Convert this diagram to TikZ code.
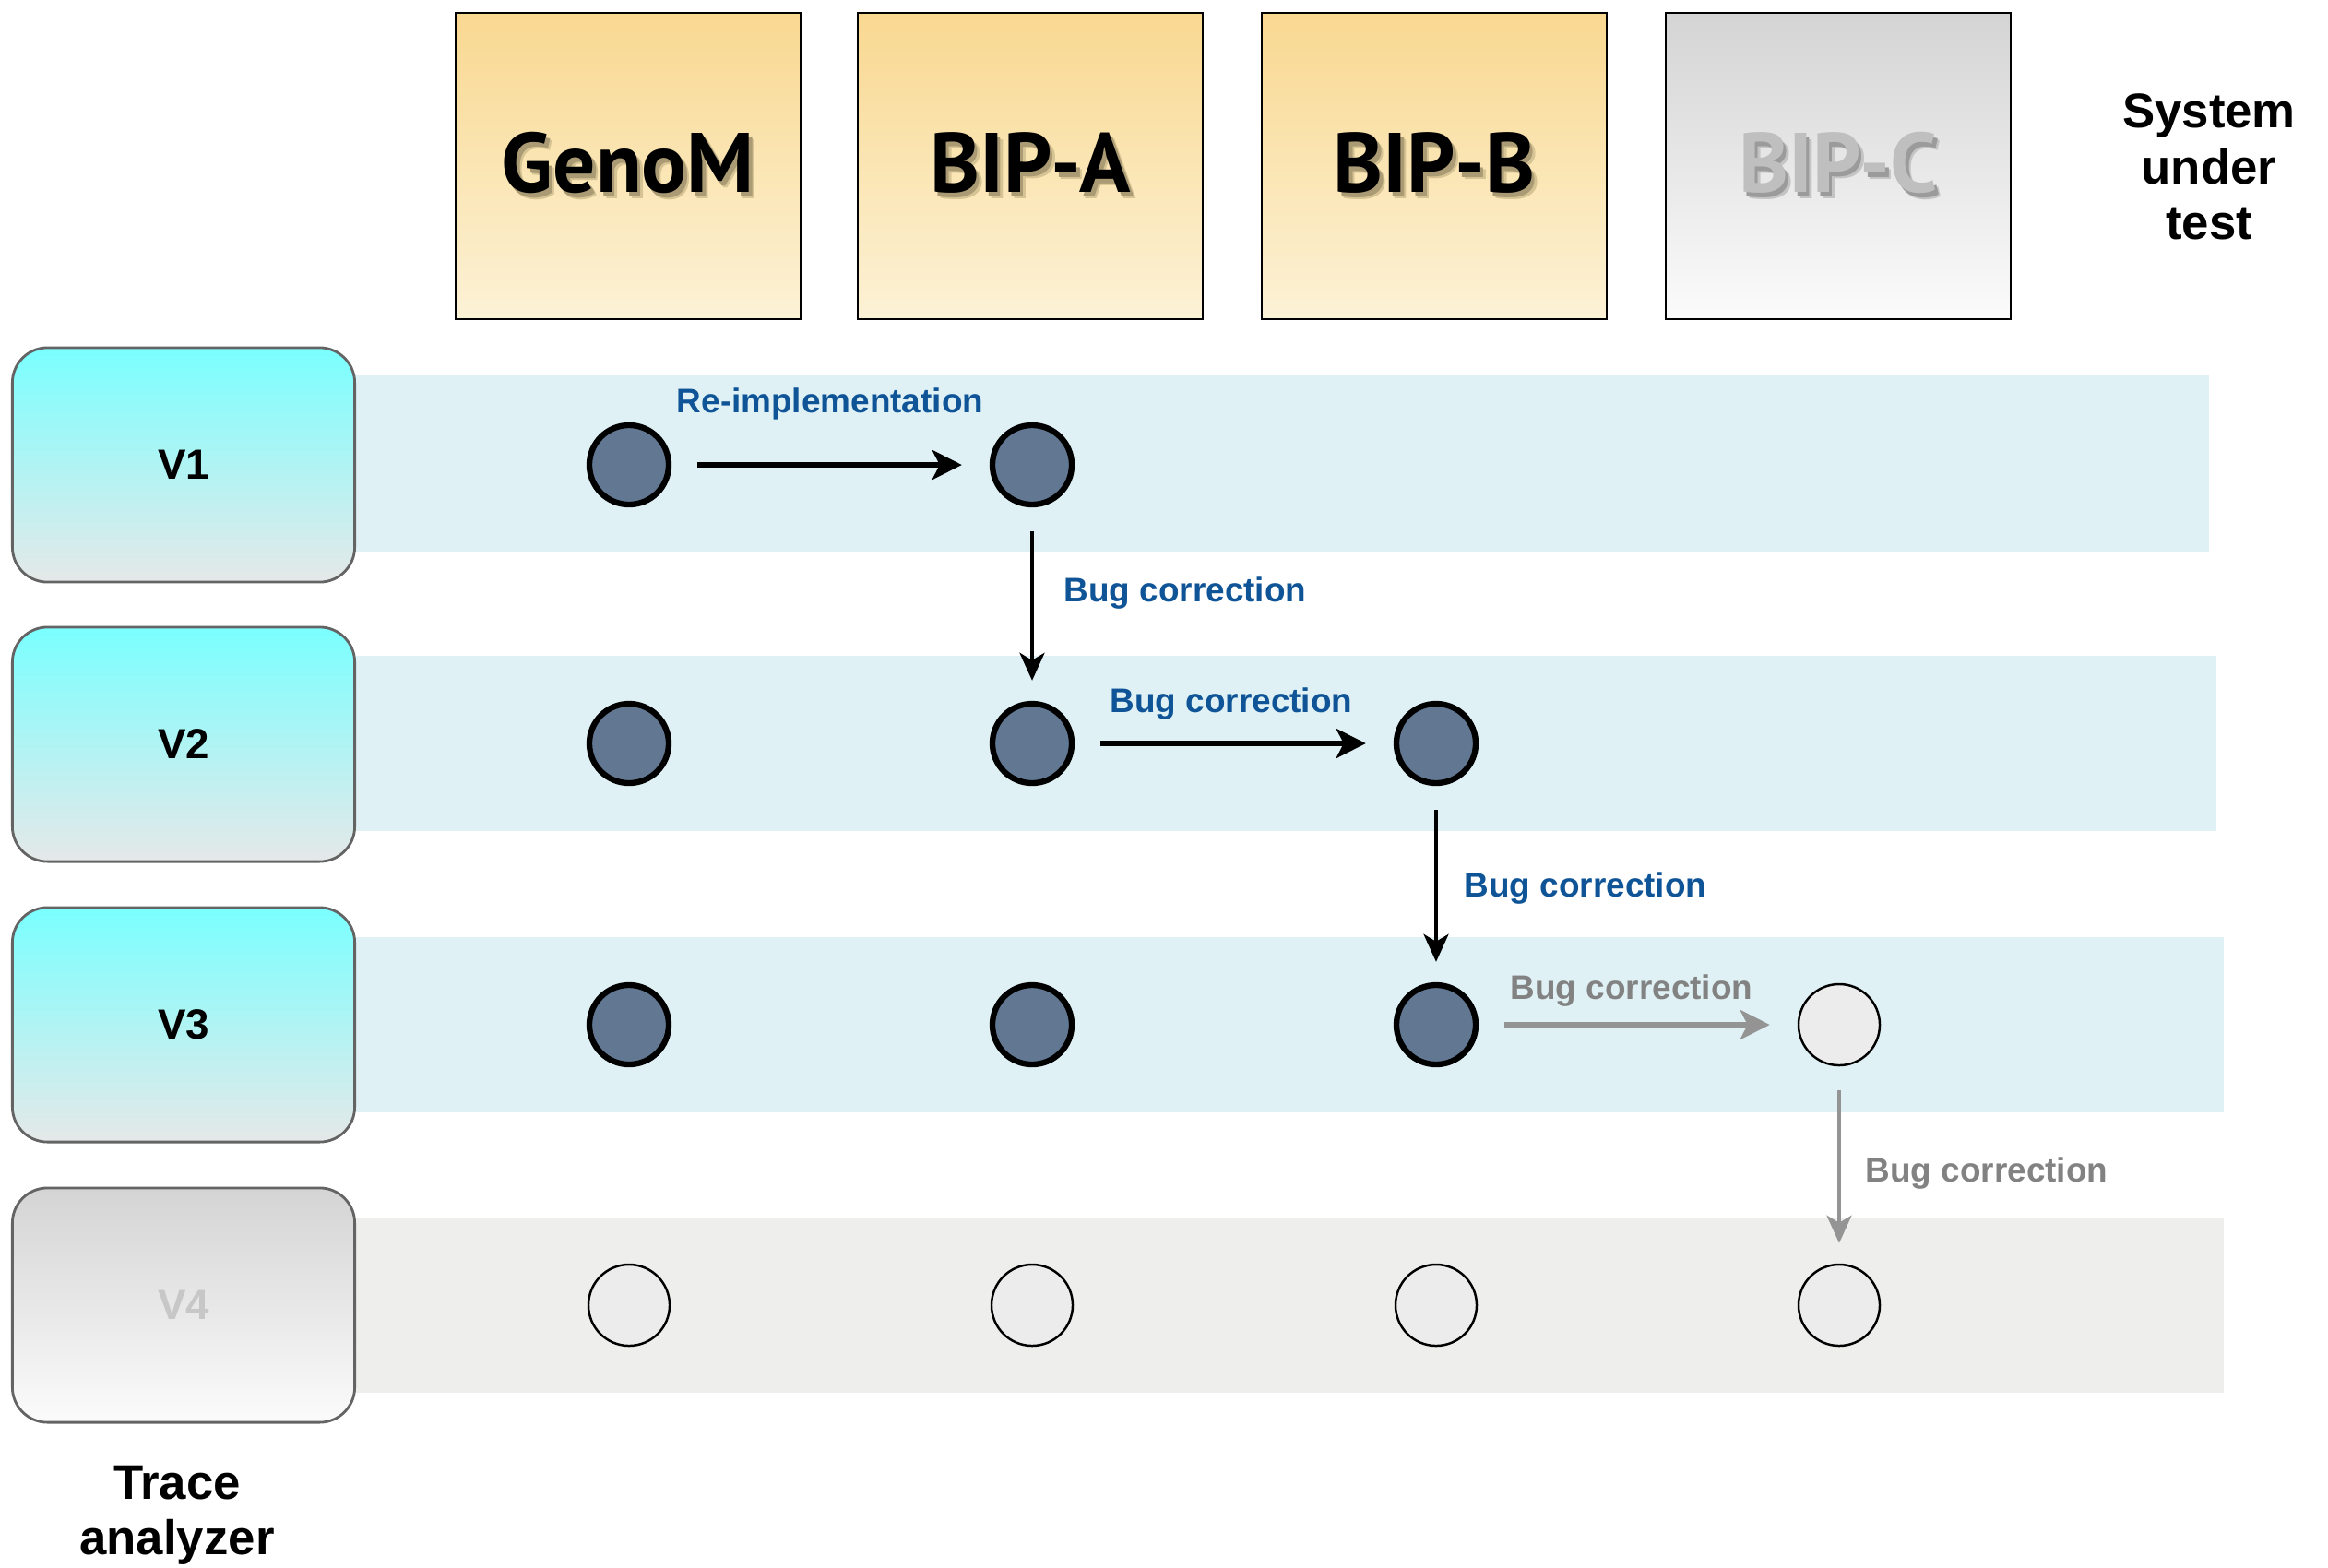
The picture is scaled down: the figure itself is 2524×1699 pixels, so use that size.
\documentclass[tikz,border=0pt]{standalone}
\usepackage{fontspec}
\setmainfont{Liberation Sans}
\newfontfamily\boxfont{PT Sans}
\usetikzlibrary{arrows.meta}

\definecolor{bandblue}{RGB}{223,241,245}
\definecolor{bandgray}{RGB}{238,238,236}
\definecolor{labelblue}{RGB}{14,84,150}
\definecolor{labelgray}{RGB}{130,130,130}
\definecolor{arrowgray}{RGB}{148,148,148}
\definecolor{dotfill}{RGB}{98,119,146}
\definecolor{emptyfill}{RGB}{236,236,236}
\definecolor{goldtop}{RGB}{249,216,145}
\definecolor{goldmid}{RGB}{250,228,172}
\definecolor{goldbot}{RGB}{252,242,214}
\definecolor{greytop}{RGB}{212,212,212}
\definecolor{greymid}{RGB}{228,228,228}
\definecolor{greybot}{RGB}{251,251,251}
\definecolor{cyantop}{RGB}{122,255,255}
\definecolor{cyanbot}{RGB}{230,232,232}
\definecolor{laneedge}{RGB}{100,100,100}

% a word with a soft drop shadow behind it: #1 text, #2 letter colour, #3 background tone
\newcommand\shadowword[3]{%
  \makebox[0pt][l]{\hspace{0.06cm}\raisebox{-0.07cm}{\color{#3!86!black}#1}}%
  \makebox[0pt][l]{\hspace{0.035cm}\raisebox{-0.045cm}{\color{#3!68!black}#1}}%
  {\color{#2}#1}}

\begin{document}
\begin{tikzpicture}[x=0.01cm,y=-0.01cm,
  sysbox/.style={draw=black, line width=0.7pt, minimum width=3.74cm, minimum height=3.32cm,
    top color=goldtop, bottom color=goldbot, font=\boxfont\bfseries\fontsize{26}{30}\selectfont},
  sysboxoff/.style={sysbox, top color=greytop, bottom color=greybot},
  lanebox/.style={draw=laneedge, line width=0.8pt, rounded corners=0.38cm,
    minimum width=3.71cm, minimum height=2.54cm, top color=cyantop, bottom color=cyanbot,
    font=\bfseries\fontsize{13}{15}\selectfont},
  laneboxoff/.style={lanebox, top color=greytop, bottom color=greybot, text=black!22},
  dot/.style={circle, draw=black, line width=1.8pt, fill=dotfill, minimum size=0.86cm, inner sep=0pt},
  dotoff/.style={circle, draw=black, line width=0.7pt, fill=emptyfill, minimum size=0.88cm, inner sep=0pt},
  flowh/.style={line width=1.6pt, -{Stealth[length=0.32cm, width=0.32cm, inset=0.08cm]}, shorten <=0.28cm, shorten >=0.3cm},
  flowv/.style={line width=1.1pt, -{Stealth[length=0.3cm, width=0.27cm, inset=0.08cm]}, shorten <=0.26cm, shorten >=0.22cm},
  tag/.style={font=\bfseries\fontsize{10.5}{12}\selectfont, text=labelblue, inner sep=0pt},
  tagoff/.style={tag, text=labelgray},
  caption/.style={font=\bfseries\fontsize{15}{17.2}\selectfont, align=center, inner sep=0pt}]

\useasboundingbox (0,0) rectangle (2524,1699);

% lane bands
\fill[bandblue] (385,407) rectangle (2395,599);
\fill[bandblue] (385,711) rectangle (2403,901);
\fill[bandblue] (385,1016) rectangle (2411,1206);
\fill[bandgray] (385,1320) rectangle (2411,1510);

% systems under test
\node[sysbox] (genom) at (681,180) {\shadowword{GenoM}{black}{goldmid}};
\node[sysbox] (bipa) at (1117,180) {\shadowword{BIP-A}{black}{goldmid}};
\node[sysbox] (bipb) at (1555,180) {\shadowword{BIP-B}{black}{goldmid}};
\node[sysboxoff] (bipc) at (1993,180) {\shadowword{BIP-C}{black!25}{greymid}};
\node[caption] (sut) at (2395,181) {System\\under\\test};

% trace analyzer versions
\node[lanebox] (v1) at (199,504) {V1};
\node[lanebox] (v2) at (199,807) {V2};
\node[lanebox] (v3) at (199,1111) {V3};
\node[laneboxoff] (v4) at (199,1415) {V4};
\node[caption] (ta) at (192,1643) {Trace\\analyzer};

% results per version and system
\node[dot] (a1) at (682,504) {};
\node[dot] (b1) at (1119,504) {};
\node[dot] (a2) at (682,806) {};
\node[dot] (b2) at (1119,806) {};
\node[dot] (c2) at (1557,806) {};
\node[dot] (a3) at (682,1111) {};
\node[dot] (b3) at (1119,1111) {};
\node[dot] (c3) at (1557,1111) {};
\node[dotoff] (d3) at (1994,1111) {};
\node[dotoff] (a4) at (682,1415) {};
\node[dotoff] (b4) at (1119,1415) {};
\node[dotoff] (c4) at (1557,1415) {};
\node[dotoff] (d4) at (1994,1415) {};

% transitions
\draw[flowh] (a1) -- (b1);
\draw[flowv] (b1) -- (b2);
\draw[flowh] (b2) -- (c2);
\draw[flowv] (c2) -- (c3);
\draw[flowh, arrowgray] (c3) -- (d3);
\draw[flowv, arrowgray] (d3) -- (d4);

\node[tag] (l1) at (900,438) {Re-implementation};
\node[tag, anchor=west] (l2) at (1153,643) {Bug correction};
\node[tag] (l3) at (1335,763) {Bug correction};
\node[tag, anchor=west] (l4) at (1587,963) {Bug correction};
\node[tagoff] (l5) at (1769,1074) {Bug correction};
\node[tagoff, anchor=west] (l6) at (2022,1272) {Bug correction};

\end{tikzpicture}
\end{document}
